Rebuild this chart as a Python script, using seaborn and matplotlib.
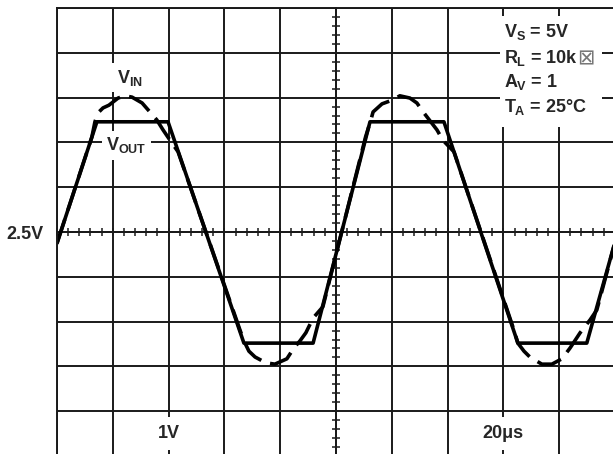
import numpy as np
import matplotlib
matplotlib.use('Agg')
import matplotlib.pyplot as plt
from matplotlib.patches import Rectangle
import seaborn as sns

# time in us (20us/div), voltage in V (1V/div, centre 2.5V)
time_out = [0, 14.3, 39.8, 67.0, 91.8, 112.2, 138.7, 165.2, 189.9, 200.7]
v_out = [2.25, 4.96, 4.96, 0.02, 0.02, 4.96, 4.96, 0.02, 0.02, 2.43]

time_in = [0, 12.5, 13.6, 14.7, 16.5, 18.6, 21.9, 24.4, 26.9, 30.5, 33.3,
           35.8, 38.0, 40.5, 43.4, 65.6, 67.0, 68.8, 71.0, 74.9, 78.1, 82.4,
           84.9, 87.1, 89.2, 91.8, 95.3, 110.6, 112.5, 113.3, 116.5, 120.4,
           122.9, 126.5, 129.0, 131.5, 136.2, 138.3, 142.3, 163.8, 165.2,
           167.4, 169.5, 173.8, 177.4, 181.0, 183.9, 187.5, 191.1, 193.5, 200.7]
v_in = [2.25, 4.62, 4.96, 5.16, 5.27, 5.33, 5.49, 5.54, 5.51, 5.38, 5.18,
        5.00, 4.78, 4.55, 4.29, 0.31, 0.07, -0.16, -0.29, -0.42, -0.45, -0.33,
        -0.09, 0.07, 0.25, 0.58, 0.83, 4.62, 5.00, 5.18, 5.36, 5.45,
        5.54, 5.49, 5.38, 5.16, 4.78, 4.55, 4.29, 0.31, 0.02,
        -0.16, -0.29, -0.45, -0.45, -0.33, -0.09, 0.25, 0.54, 0.76, 2.43]

x_grid = [0, 20, 40, 60, 80, 100, 120, 140, 160, 180]
y_grid = [-1.5, -0.5, 0.5, 1.5, 2.5, 3.5, 4.5, 5.5, 6.5, 7.5]
y_labels = ['', '', '', '', '2.5V', '', '', '', '', '']
conditions = ['$V_S$ = 5V', '$R_L$ = 10k', '$A_V$ = 1', '$T_A$ = 25\u00b0C']
cond_y = [6.85, 6.27, 5.74, 5.18]

sns.set_style('white')
plt.rcParams['font.family'] = ['Liberation Sans', 'DejaVu Sans']
plt.rcParams['font.weight'] = 'bold'
plt.rcParams['mathtext.fontset'] = 'custom'
plt.rcParams['mathtext.rm'] = 'Liberation Sans:bold'
plt.rcParams['mathtext.it'] = 'Liberation Sans:bold'
plt.rcParams['mathtext.bf'] = 'Liberation Sans:bold'

ink = '#1a1a1a'
xlim = (0, 199.3)
ylim = (-2.455, 7.5)
rect = [57 / 613, 0, 1 - 57 / 613, 446 / 454]

fig = plt.figure(figsize=(6.13, 4.54), dpi=100)
fig.patch.set_facecolor('white')

# centre cross with small division ticks
ax2 = fig.add_axes(rect)
ax2.set_xlim(xlim)
ax2.set_ylim(ylim)
ax2.patch.set_visible(False)
ax2.spines['top'].set_visible(False)
ax2.spines['right'].set_visible(False)
ax2.spines['bottom'].set_position(('data', 2.5))
ax2.spines['left'].set_position(('data', 100))
for s in ['bottom', 'left']:
    ax2.spines[s].set_linewidth(1.4)
    ax2.spines[s].set_color(ink)
ax2.set_xticks(np.arange(0, 200, 4))
ax2.set_yticks(np.arange(-2.3, 7.5, 0.2))
ax2.set_xlim(xlim)
ax2.set_ylim(ylim)
ax2.tick_params(direction='inout', length=6, width=1.1, color=ink,
                bottom=True, left=True, labelbottom=False, labelleft=False)

# main grid and traces
ax = fig.add_axes(rect)
ax.set_zorder(2)
ax.patch.set_visible(False)
ax.set_xticks(x_grid)
ax.set_yticks(y_grid)
ax.set_yticklabels(y_labels)
ax.set_xticklabels([])
ax.set_xlim(xlim)
ax.set_ylim(ylim)
ax.grid(True, color=ink, linewidth=1.4)
ax.tick_params(length=0)
ax.tick_params(axis='y', pad=9.5, labelsize=13)
for lbl in ax.get_yticklabels():
    lbl.set_fontweight('bold')
for s in ['right', 'bottom']:
    ax.spines[s].set_visible(False)
for s in ['left', 'top']:
    ax.spines[s].set_linewidth(1.4)
    ax.spines[s].set_color(ink)

sns.lineplot(x=time_in, y=v_in, ax=ax, color='black', linewidth=2.6,
             linestyle=(0, (7, 2.6)), estimator=None, sort=False)
sns.lineplot(x=time_out, y=v_out, ax=ax, color='black', linewidth=2.6,
             estimator=None, sort=False)
ax.set_xlabel('')
ax.set_ylabel('')

box = dict(boxstyle='square,pad=0.25', facecolor='white', edgecolor='none')
ax.text(21.5, 5.83, '$V_{IN}$', fontsize=13, ha='left', va='baseline', bbox=box, zorder=5)
ax.text(17.6, 4.33, '$V_{OUT}$', fontsize=13, ha='left', va='baseline', bbox=box, zorder=5)

box2 = dict(boxstyle='square,pad=0.45', facecolor='white', edgecolor='none')
ax.text(40, -2.0, '1V', fontsize=13, fontweight='bold', ha='center', va='center',
        bbox=box2, zorder=5)
ax.text(160, -2.0, '20\u03bcs', fontsize=13, fontweight='bold', ha='center', va='center',
        bbox=box2, zorder=5)

# test conditions block
ax.add_patch(Rectangle((158.8, 4.84), 36.5, 2.48, facecolor='white',
                       edgecolor='none', zorder=4))
for txt, yy in zip(conditions, cond_y):
    ax.text(160.2, yy, txt, fontsize=13, fontweight='bold',
            ha='left', va='baseline', zorder=5)
# the ohm sign shows as a missing-glyph box in the original
ax.text(186.6, 6.24, '\u22a0', fontsize=15, fontweight='normal', color='#777777',
        family='DejaVu Sans', ha='left', va='baseline', zorder=6)

fig.savefig('out.png', dpi=100)
